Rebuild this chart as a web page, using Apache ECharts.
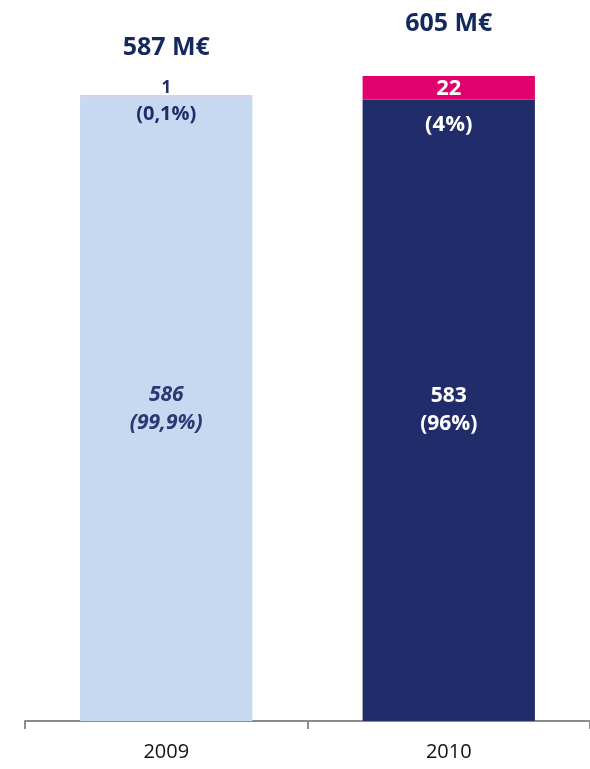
<!DOCTYPE html>
<html>
<head>
<meta charset="utf-8">
<script src="https://cdn.jsdelivr.net/npm/echarts@6/dist/echarts.min.js"></script>
<style>
  html, body { margin: 0; padding: 0; background: #fff; }
  #chart { width: 590px; height: 769px; }
</style>
</head>
<body>
<div id="chart"></div>
<script>
// data
var years = ['2009', '2010'];
var baseValues = [586, 583];
var topValues = [1, 22];
var totals = [587, 605];
var basePct = ['99,9%', '96%'];
var topPct = ['0,1%', '4%'];

var FONT = '"Open Sans", Lato, sans-serif';
var NAVY = '#212d6b';

var chart = echarts.init(document.getElementById('chart'));

var option = {
    animation: false,
    grid: { left: 25, right: -3, top: 76, bottom: 48 },
    xAxis: {
        type: 'category',
        data: years,
        axisLine: { show: true, lineStyle: { color: '#8c8c8c', width: 2 } },
        axisTick: { show: true, alignWithLabel: false, length: 8, lineStyle: { color: '#8c8c8c', width: 2 } },
        axisLabel: { color: '#111', fontSize: 20, fontFamily: FONT, margin: 21 }
    },
    yAxis: { type: 'value', min: 0, max: 605, show: false, splitLine: { show: false } },
    series: [
        {
            type: 'bar',
            stack: 'all',
            barWidth: '61%',
            data: [
                {
                    value: baseValues[0],
                    itemStyle: { color: '#c6d9f0' },
                    label: { color: '#2a3874', fontStyle: 'italic' }
                },
                {
                    value: baseValues[1],
                    itemStyle: { color: NAVY },
                    label: { color: '#fff' }
                }
            ],
            label: {
                show: true,
                position: 'inside',
                fontFamily: FONT,
                fontWeight: 'bold',
                fontSize: 21,
                lineHeight: 28,
                formatter: function (p) {
                    return baseValues[p.dataIndex] + '\n(' + basePct[p.dataIndex] + ')';
                }
            }
        },
        {
            type: 'bar',
            stack: 'all',
            data: [
                {
                    value: topValues[0],
                    itemStyle: { color: '#f4aecb' },
                    label: {
                        color: NAVY,
                        offset: [0, -20],
                        rich: {
                            v: { fontSize: 17, fontWeight: 'bold', color: NAVY, lineHeight: 26, fontFamily: FONT },
                            p: { fontSize: 20, fontWeight: 'bold', color: NAVY, lineHeight: 26, fontFamily: FONT }
                        }
                    }
                },
                {
                    value: topValues[1],
                    itemStyle: { color: '#e2006c' },
                    label: {
                        color: '#fff',
                        rich: {
                            v: { fontSize: 22, fontWeight: 'bold', color: '#fff', lineHeight: 26, fontFamily: FONT },
                            p: { fontSize: 22, fontWeight: 'bold', color: '#fff', lineHeight: 46, fontFamily: FONT }
                        }
                    }
                }
            ],
            label: {
                show: true,
                position: 'insideTop',
                distance: 0,
                formatter: function (p) {
                    return '{v|' + topValues[p.dataIndex] + '}\n{p|(' + topPct[p.dataIndex] + ')}';
                }
            }
        },
        {
            type: 'bar',
            stack: 'all',
            data: [
                { value: 0, label: { distance: 35 } },
                { value: 0, label: { distance: 40 } }
            ],
            label: {
                show: true,
                position: 'top',
                color: '#14285e',
                fontFamily: FONT,
                fontWeight: 'bold',
                fontSize: 25,
                formatter: function (p) {
                    return totals[p.dataIndex] + ' M€';
                }
            }
        }
    ]
};

chart.setOption(option);
</script>
</body>
</html>
